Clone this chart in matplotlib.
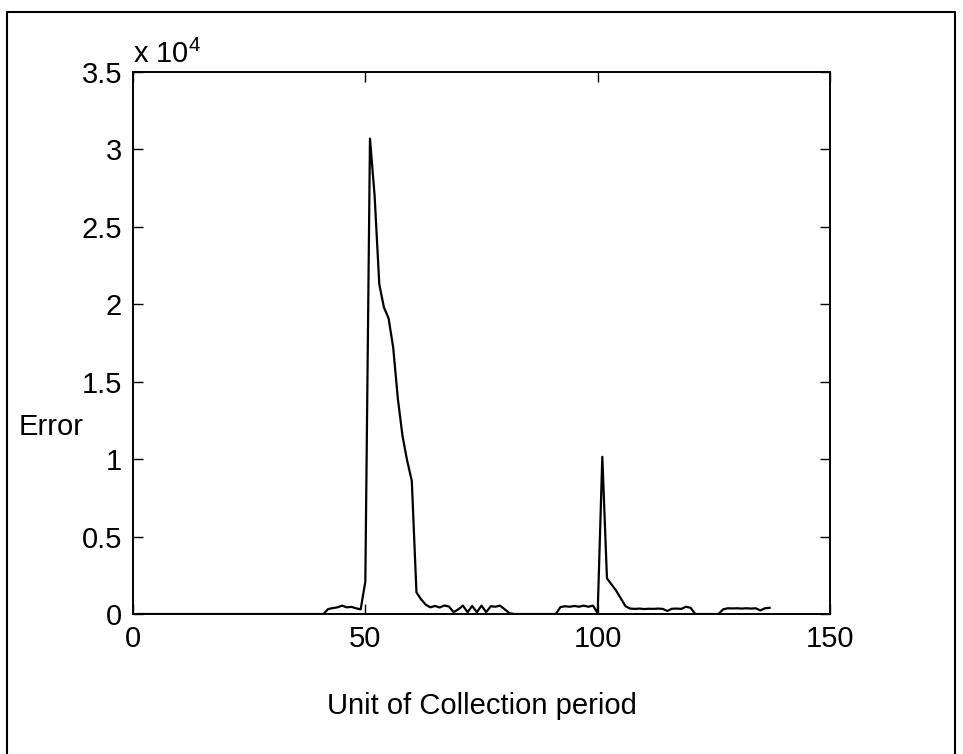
import numpy as np
import matplotlib
matplotlib.use("Agg")
import matplotlib.pyplot as plt
from matplotlib.lines import Line2D

plt.rcParams['font.family'] = ['Liberation Sans', 'DejaVu Sans']
plt.rcParams['mathtext.fontset'] = 'custom'
plt.rcParams['mathtext.rm'] = 'Liberation Sans'
plt.rcParams['mathtext.it'] = 'Liberation Sans'

# ---- data (x = 1..137) ----
period = np.arange(1, 138)
error = ([0] * 41 +
         [320, 380, 430, 540, 430, 460, 370, 300,            # 42-49
          2100, 30700, 27000, 21300, 19800, 19100, 17200,    # 50-56
          13900, 11500, 9900, 8600, 1400, 950, 600,          # 57-63
          430, 520, 420, 550, 480, 120, 300, 540, 120,       # 64-72
          520, 110, 540, 120, 500, 470, 540, 300, 60] +      # 73-81
         [0] * 10 +                                          # 82-91
         [450, 500, 470, 520, 470, 540, 470, 540,            # 92-99
          50, 10150, 2300, 1900, 1500, 1000, 500, 350,       # 100-107
          330, 350, 320, 340, 330, 350, 330, 200, 340,       # 108-116
          350, 330, 470, 400] +                              # 117-120
         [0] * 6 +                                           # 121-126
         [300, 370, 360, 370, 350, 370, 350, 370, 230,       # 127-135
          370, 400])                                         # 136-137

xticks = [0, 50, 100, 150]
yticks = [0, 5000, 10000, 15000, 20000, 25000, 30000, 35000]
ytick_labels = ['0', '0.5', '1', '1.5', '2', '2.5', '3', '3.5']

FS = 21

fig = plt.figure(figsize=(9.63, 7.54), dpi=100)
ax = fig.add_axes([133 / 963, 1 - 614 / 754, (830 - 133) / 963, (614 - 72) / 754])

ax.plot(period, error, color='black', linewidth=1.6)

ax.set_xlim(0, 150)
ax.set_ylim(0, 35000)
ax.set_xticks(xticks)
ax.set_xticklabels([str(t) for t in xticks])
ax.set_yticks(yticks)
ax.set_yticklabels(ytick_labels)
ax.tick_params(direction='in', length=7, width=1, labelsize=FS,
               top=True, right=True, pad=8, colors='black')
for s in ax.spines.values():
    s.set_linewidth(1.4)
    s.set_color('black')

ax.set_xlabel('Unit of Collection period', fontsize=FS, labelpad=28)
ax.set_ylabel('Error', fontsize=FS, rotation=0, ha='center', va='center')
ax.yaxis.set_label_coords(-0.117, 0.345)

ax.text(0.0, 1.005, r'x 10$^{4}$', transform=ax.transAxes, fontsize=FS,
        ha='left', va='bottom')

# outer frame (left, top, right edges)
L, R, T = 7 / 963, 955 / 963, 1 - 12 / 754
fig.add_artist(Line2D([L, L, R, R], [0, T, T, 0], transform=fig.transFigure,
                      color='black', linewidth=1.5))

fig.savefig('out.png', dpi=100, facecolor='white')
